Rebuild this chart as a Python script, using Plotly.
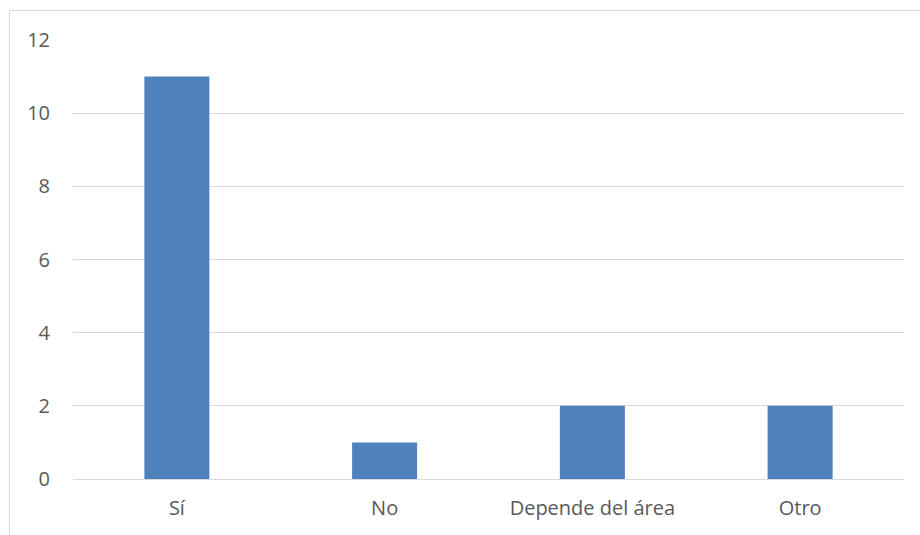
import plotly.graph_objects as go

categories = ["Sí", "No", "Depende del área", "Otro"]
counts = [11, 1, 2, 2]
y_ticks = [0, 2, 4, 6, 8, 10, 12]

W, H = 920, 535
ML, MR, MT, MB = 73, 16, 40, 56
PW, PH = W - ML - MR, H - MT - MB

fig = go.Figure(
    go.Bar(
        x=categories,
        y=counts,
        marker=dict(color="#4f81bd", line=dict(width=0)),
        hoverinfo="x+y",
    )
)

# outer chart frame (right and bottom edges fall off-canvas)
def px_x(v):
    return (v - ML) / PW

def px_y(v):
    return (H - MB - v) / PH

fig.add_shape(
    type="rect", xref="paper", yref="paper",
    x0=px_x(9.5), x1=px_x(930), y0=px_y(545), y1=px_y(10.5),
    line=dict(color="#d9d9d9", width=1), fillcolor="rgba(0,0,0,0)",
    layer="below",
)

FONT = "'Open Sans', Lato, sans-serif"

fig.update_layout(
    width=W, height=H,
    margin=dict(l=ML, r=MR, t=MT, b=MB),
    paper_bgcolor="white", plot_bgcolor="white",
    bargap=0.687,
    showlegend=False,
    font=dict(family=FONT, size=20, color="#595959"),
    xaxis=dict(
        showgrid=False, showline=False, zeroline=False,
        ticks="", ticklabelstandoff=15,
        tickfont=dict(family=FONT, size=20, color="#595959"),
    ),
    yaxis=dict(
        range=[0, 12], tickvals=y_ticks,
        showgrid=True, gridcolor="#d9d9d9", gridwidth=1,
        zeroline=True, zerolinecolor="#d9d9d9", zerolinewidth=1,
        showline=False, ticks="", ticklabelstandoff=22,
        tickfont=dict(family=FONT, size=20, color="#595959"),
    ),
)

fig.write_html("out.html")
